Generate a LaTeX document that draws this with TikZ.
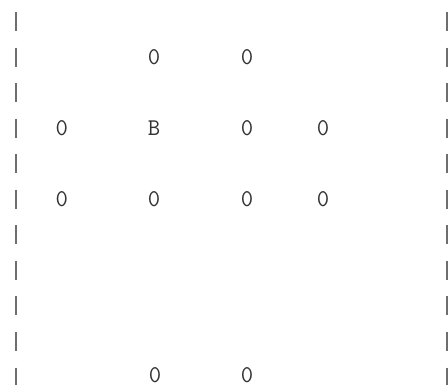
\documentclass[tikz,border=0pt]{standalone}
\definecolor{bargray}{HTML}{6E6E6E}
\definecolor{txtgray}{HTML}{333333}
\tikzset{
  cell/.style={inner sep=0pt, outer sep=0pt, text=txtgray, font=\ttfamily\fontsize{24}{24}\selectfont},
  bar/.style={draw=bargray, line width=2pt}
}
\begin{document}
\begin{tikzpicture}[x=1pt,y=-1pt]
\useasboundingbox[fill=white] (0,0) rectangle (448,385);
% side bars
\foreach \k in {0,...,10} {
  \coordinate (lt\k) at (15.7,{12+35.56*\k});
  \coordinate (lb\k) at (15.7,{31+35.56*\k});
  \coordinate (rt\k) at (447,{12+35.56*\k});
  \coordinate (rb\k) at (447,{31+35.56*\k});
  \draw[bar] (lt\k) -- (lb\k);
  \draw[bar] (rt\k) -- (rb\k);
}
% row 1
\node[cell] (a1) at (154,57) {0};
\node[cell] (a2) at (247,57) {0};
% row 3
\node[cell] (b0) at (61.7,128.5) {0};
\node[cell] (b1) at (154,128.5) {B};
\node[cell] (b2) at (247,128.5) {0};
\node[cell] (b3) at (323,128.5) {0};
% row 5
\node[cell] (c0) at (61.7,199.5) {0};
\node[cell] (c1) at (154,199.5) {0};
\node[cell] (c2) at (247,199.5) {0};
\node[cell] (c3) at (323,199.5) {0};
% row 10
\node[cell] (d1) at (155,375) {0};
\node[cell] (d2) at (247,375) {0};
\end{tikzpicture}
\end{document}
